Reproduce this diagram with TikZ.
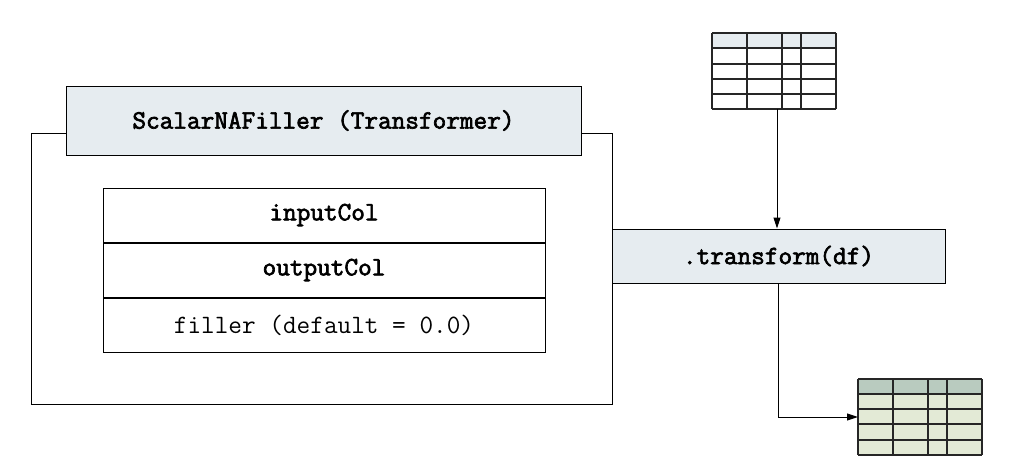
\documentclass[tikz,border=0pt]{standalone}
\usepackage{fontspec}
\newfontfamily\heavytt[FakeBold=2.5]{Latin Modern Mono}
\usetikzlibrary{arrows.meta,positioning}
\definecolor{boxblue}{HTML}{E6ECF0}
\definecolor{headgreen}{HTML}{B9CBBF}
\definecolor{rowgreen}{HTML}{E3EAD6}

\begin{document}
\begin{tikzpicture}[x=1pt,y=-1pt,line width=1pt,
    >={Triangle[length=11pt,width=7pt]},
    box/.style={draw, fill=boxblue, inner sep=0pt, font=\heavytt\fontsize{26.5}{30}\selectfont},
    field/.style={draw, minimum width=442pt, minimum height=54pt, inner sep=0pt, font=\ttfamily\fontsize{26.5}{30}\selectfont},
    grid/.style={line width=1.4pt, black!85}]
    \useasboundingbox (0,0) rectangle (1009,475);

    % Outer frame of the transformer
    \draw (31,133) rectangle (612,404);

    % Title
    \node[box, minimum width=515pt, minimum height=69pt] (title) at (323.5,120.5) {ScalarNAFiller (Transformer)};

    % Parameters
    \node[field, font=\heavytt\fontsize{26.5}{30}\selectfont] (incol) at (324,215) {inputCol};
    \node[field, font=\heavytt\fontsize{26.5}{30}\selectfont, below=0pt of incol] (outcol) {outputCol};
    \node[field, below=0pt of outcol] (filler) {filler (default = 0.0)};

    % Method
    \node[box, minimum width=333pt, minimum height=54pt] (trans) at (778.5,256) {.transform(df)};

    % Input data frame
    \fill[boxblue] (712,33) rectangle (836,48);
    \foreach \y in {33,48,64,79,94,109} \draw[grid] (712,\y) -- (836,\y);
    \foreach \x in {712,747,782,801,836} \draw[grid] (\x,33) -- (\x,109);
    \coordinate (intab) at (777,109);

    % Output data frame
    \fill[rowgreen] (858,379) rectangle (982,455);
    \fill[headgreen] (858,379) rectangle (982,394);
    \foreach \y in {379,394,409,424,440,455} \draw[grid] (858,\y) -- (982,\y);
    \foreach \x in {858,893,928,947,982} \draw[grid] (\x,379) -- (\x,455);
    \coordinate (outtab) at (858,417);

    % Arrows
    \draw[->] (intab) -- (intab |- trans.north);
    \draw[->] (trans.south) |- (outtab);
\end{tikzpicture}
\end{document}
